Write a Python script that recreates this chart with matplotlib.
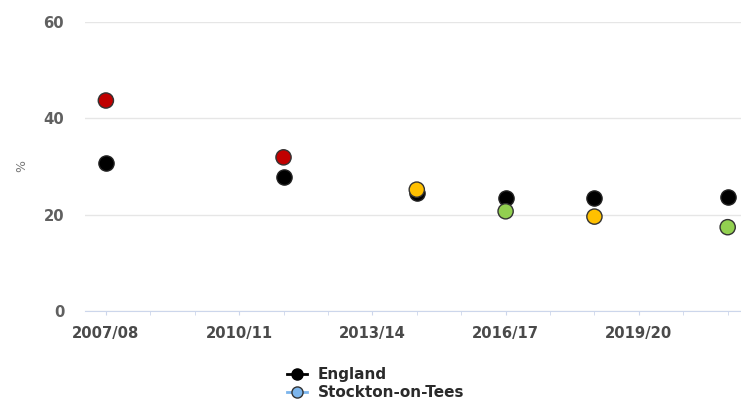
import matplotlib.pyplot as plt
from matplotlib.lines import Line2D

# data
years = ["2007/08", "2008/09", "2009/10", "2010/11", "2011/12", "2012/13", "2013/14",
         "2014/15", "2015/16", "2016/17", "2017/18", "2018/19", "2019/20", "2020/21", "2021/22"]
tick_labels = ["2007/08", "2010/11", "2013/14", "2016/17", "2019/20"]
periods = ["2007/08", "2011/12", "2014/15", "2016/17", "2018/19", "2021/22"]
england = [30.8, 27.9, 24.6, 23.5, 23.5, 23.7]
stockton = [43.7, 31.9, 25.2, 20.7, 19.6, 17.4]
comparison = ["worse", "worse", "similar", "better", "similar", "better"]

rag = {"worse": "#C00000", "similar": "#FFC000", "better": "#92D050"}

plt.rcParams['font.family'] = ['DejaVu Sans']

fig = plt.figure(figsize=(7.41, 4.08), dpi=100)
ax = fig.add_axes([85 / 741, 97 / 408, 656 / 741, 289 / 408])

xs = [years.index(p) for p in periods]
ax.scatter(xs, england, s=120, c="black", edgecolors="#222222", linewidths=1, zorder=3)
ax.scatter(xs, stockton, s=120, c=[rag[c] for c in comparison],
           edgecolors="#333333", linewidths=1, zorder=4)

ax.set_ylim(0, 60)
ax.set_yticks([0, 20, 40, 60])
ax.set_xlim(-0.47, 14.3)
ax.set_xticks(range(len(years)), minor=True)
ax.set_xticks([years.index(t) for t in tick_labels])
ax.set_xticklabels(tick_labels)
ax.grid(axis="y", color="#e6e6e6", lw=1)
ax.set_axisbelow(True)
for s in ["top", "right", "left"]:
    ax.spines[s].set_visible(False)
ax.spines["bottom"].set_color("#ccd6eb")
ax.tick_params(axis="y", length=0, labelsize=10.7, labelcolor="#606060", pad=15)
ax.tick_params(axis="x", which="both", length=3, color="#ccd6eb", labelsize=10.6,
               labelcolor="#4a4a4a", pad=8)
for lab in ax.get_xticklabels() + ax.get_yticklabels():
    lab.set_fontweight("bold")
ax.set_ylabel("%", color="#777777", fontsize=9, labelpad=11)

handles = [
    Line2D([], [], color="black", marker="o", markersize=8, markerfacecolor="black",
           markeredgecolor="black", lw=2),
    Line2D([], [], color="#7cb5ec", marker="o", markersize=8, markerfacecolor="#7cb5ec",
           markeredgecolor="#333333", lw=2),
]
leg = fig.legend(handles, ["England", "Stockton-on-Tees"], loc="upper left",
                 bbox_to_anchor=(287 / 741, 1 - 367 / 408), frameon=False, handlelength=1.3,
                 handletextpad=0.7, labelspacing=0.2, borderaxespad=0, borderpad=0,
                 prop={"size": 11, "weight": "bold"})
for t in leg.get_texts():
    t.set_color("#2a2a2a")

fig.savefig("out.png", dpi=100)
